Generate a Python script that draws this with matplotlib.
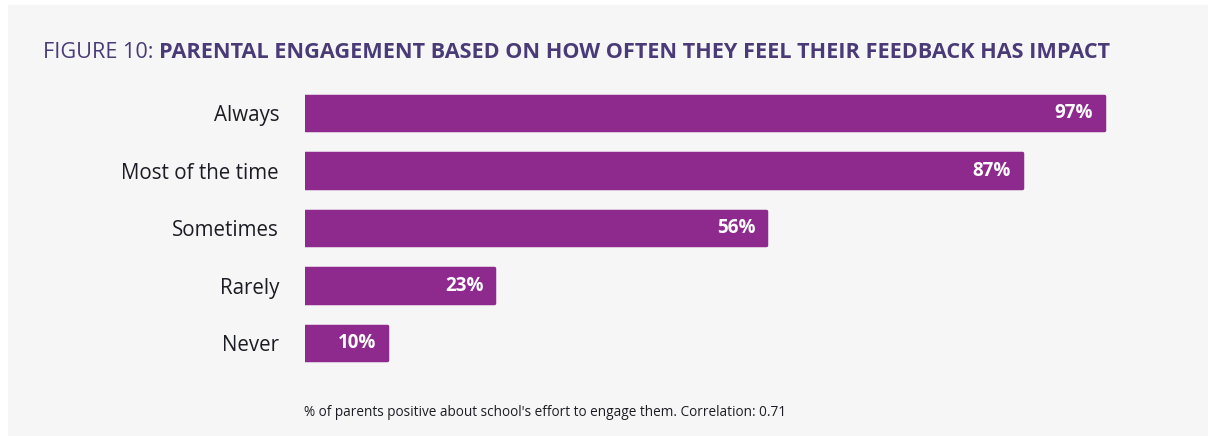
import matplotlib
matplotlib.use("Agg")
import matplotlib.pyplot as plt
from matplotlib.patches import Rectangle

categories = ["Always", "Most of the time", "Sometimes", "Rarely", "Never"]
values = [97, 87, 56, 23, 10]
value_labels = ["97%", "87%", "56%", "23%", "10%"]
title_prefix = "FIGURE 10: "
title_main = "PARENTAL ENGAGEMENT BASED ON HOW OFTEN THEY FEEL THEIR FEEDBACK HAS IMPACT"
footnote = "% of parents positive about school's effort to engage them. Correlation: 0.71"

W, H = 1208, 436
plt.rcParams['font.family'] = ['Open Sans', 'DejaVu Sans']
fig = plt.figure(figsize=(W / 100, H / 100), dpi=100)
fig.patch.set_facecolor("white")
fig.patches.append(Rectangle((8 / W, 0), 1 - 8 / W, 1 - 5 / H, transform=fig.transFigure,
                             facecolor="#f6f6f6", edgecolor="none", zorder=-5))

bar_color = "#8e2a8e"
ax = fig.add_axes([305 / W, (H - 371.75) / H, 823.7 / W, 287.5 / H])
ax.set_facecolor("none")
ypos = list(range(len(categories)))
bars = ax.barh(ypos, values, height=0.6, color=bar_color, edgecolor=bar_color,
               linewidth=2.5, joinstyle="round")
ax.set_xlim(0, 100)
ax.set_ylim(len(categories) - 0.5, -0.5)
for s in ax.spines.values():
    s.set_visible(False)
ax.set_xticks([])
ax.set_yticks(ypos)
ax.set_yticklabels(categories, fontsize=14.8, color="#1c1c24")
ax.tick_params(axis="y", length=0, pad=18.7)

for b, lab in zip(bars, value_labels):
    ax.annotate(lab, xy=(b.get_width(), b.get_y() + b.get_height() / 2),
                xytext=(-8, 0), textcoords="offset points", ha="right", va="center",
                color="white", fontsize=13.5, fontweight="bold")

t1 = fig.text(43 / W, 1 - 53 / H, title_prefix, fontsize=15.6, color="#4a3b78",
              ha="left", va="center")
ax.annotate(title_main, xy=(1, 0.5), xycoords=t1, ha="left", va="center",
            fontsize=15.6, fontweight="bold", color="#4a3b78", annotation_clip=False)

fig.text(304 / W, 1 - 412 / H, footnote, fontsize=9.8, color="#1c1c24",
         ha="left", va="center")

fig.savefig("out.png", dpi=100, facecolor=fig.get_facecolor())
